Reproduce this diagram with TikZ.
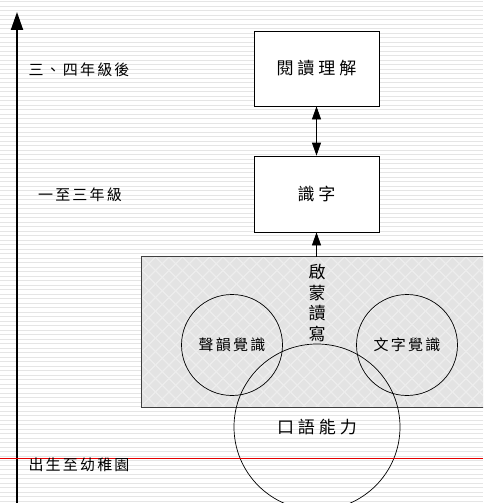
\documentclass[tikz,border=0pt]{standalone}
\usepackage{fontspec}
\newfontfamily\cjk{Noto Sans CJK TC}
\usetikzlibrary{arrows.meta}
\newcommand\kg{\kern2.2pt}
\newcommand\kb{\kern4pt}
\begin{document}
\begin{tikzpicture}[x=1pt,y=-1pt,
  tbox/.style={draw=black,line width=0.8pt,fill=white,minimum width=125pt,minimum height=75pt,inner sep=0pt,font=\cjk\fontsize{17}{17}\selectfont},
  ring/.style={draw=black,line width=0.7pt,circle,inner sep=0pt},
  lab/.style={font=\cjk\fontsize{15}{15}\selectfont,inner sep=0pt},
  arr/.style={-{Triangle[length=13pt,width=9pt]},line width=0.8pt},
  darr/.style={{Triangle[length=13pt,width=9pt]}-{Triangle[length=13pt,width=9pt]},line width=0.8pt}]
\useasboundingbox (0,0) rectangle (483,503);
\clip (0,0) rectangle (483,503);
\fill[white] (0,0) rectangle (483,503);
\foreach \i in {0,...,111} \draw[gray!20,line width=0.8pt] (0,1.7+4.5*\i) -- (483,1.7+4.5*\i);
% boxes
\node[tbox] (read) at (316.5,68.5) {閱\kb 讀\kb 理\kb 解};
\node[tbox,minimum height=76pt] (shizi) at (316.5,194) {識\kb 字};
% emergent literacy area
\node[rectangle,fill=black!11,minimum width=348pt,minimum height=150pt,inner sep=0pt] (lit) at (316,332) {};
\begin{scope}
\clip (lit.south west) rectangle (lit.north east);
\foreach \k in {-15,...,40} {
  \draw[white!35!black!11,line width=1.2pt] (142+13.5*\k,257) -- ++(160,160);
  \draw[white!35!black!11,line width=1.2pt] (142+13.5*\k,257) -- ++(-160,160);
}
\end{scope}
\draw[black!75,line width=1.3pt] (lit.south west) rectangle (lit.north east);
\node[font=\cjk\fontsize{17}{20.7}\selectfont,align=center,inner sep=0pt] (qm) at (317,303) {啟\\蒙\\讀\\寫};
\node[ring,minimum size=101pt,font=\cjk\fontsize{15}{15}\selectfont] (phon) at (232,345) {聲\kg 韻\kg 覺\kg 識};
\node[ring,minimum size=101pt,font=\cjk\fontsize{15}{15}\selectfont] (ortho) at (407,345) {文\kg 字\kg 覺\kg 識};
\node[ring,minimum size=166pt,font=\cjk\fontsize{17}{17}\selectfont] (oral) at (317,427) {口\kb 語\kb 能\kb 力};
% arrows
\draw[darr] (read.south) -- (shizi.north);
\draw[arr] (shizi.south |- lit.north) -- (shizi.south);
% time axis
\coordinate (axb) at (17,503);
\coordinate (axt) at (17,12);
\draw[line width=2pt,-{Triangle[length=18pt,width=12pt]}] (axb) -- (axt);
\coordinate (rl) at (0,458);
\coordinate (rr) at (483,458);
\draw[red!90!black,line width=0.9pt] (rl) -- (rr);
\node[lab] (g34) at (79,70) {三\kg 、\kg 四\kg 年\kg 級\kg 後};
\node[lab] (g13) at (80,195) {一\kg 至\kg 三\kg 年\kg 級};
\node[lab] (g0) at (79,465) {出\kg 生\kg 至\kg 幼\kg 稚\kg 園};
\end{tikzpicture}
\end{document}
